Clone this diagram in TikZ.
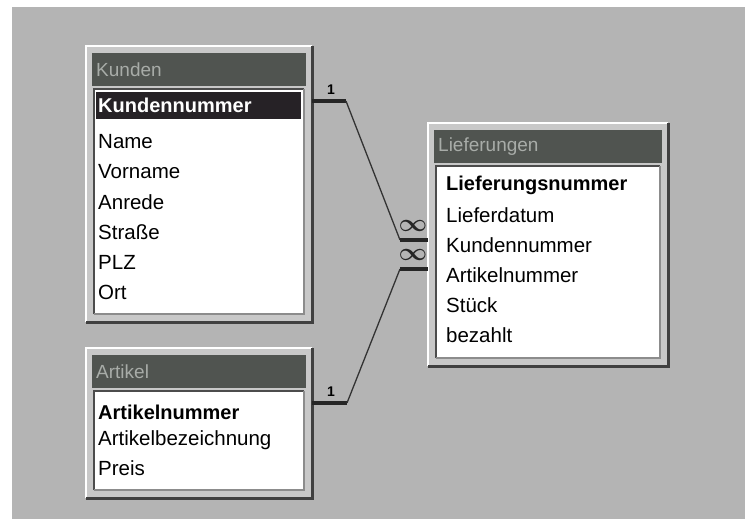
\documentclass[tikz,border=0pt]{standalone}
\usepackage{fontspec}
\setmainfont{Liberation Sans}
\usetikzlibrary{positioning}

\definecolor{hinter}{HTML}{B4B4B4}
\definecolor{rahmen}{HTML}{C8C8C8}
\definecolor{titel}{HTML}{505450}
\definecolor{titeltext}{HTML}{A8ACA8}
\definecolor{markiert}{HTML}{262226}

\tikzset{
  feld/.style={anchor=west, inner sep=0pt, font=\fontsize{20.5}{24}\selectfont},
  schluessel/.style={feld, font=\fontsize{20}{24}\selectfont\bfseries},
  titelzeile/.style={anchor=west, inner sep=0pt, text=titeltext, font=\fontsize{19}{22}\selectfont},
  balken/.style={line width=3.5pt, black!85},
  linie/.style={line width=1.3pt, black!80},
  kard/.style={inner sep=0pt, font=\fontsize{14}{14}\selectfont\bfseries},
  unendlich/.style={inner sep=0pt, text=black!85, font=\fontsize{24}{24}\selectfont\boldmath}
}

% Fenster: Name, x1, y1, x2, y2, Titel
\newcommand{\fenster}[6]{%
  \fill[rahmen] (#2,#3) rectangle (#4,#5);
  \draw[white, line width=2pt] (#2,#5) -- (#2,#3) -- (#4,#3);
  \draw[black!75, line width=3pt] (#4,#3) -- (#4,#5) -- (#2,#5);
  \fill[titel] (#2+6,#3+7) rectangle (#4-6,#3+40);
  \node[titelzeile] (#1-titel) at (#2+10,#3+24) {#6};
  \fill[white] (#2+8,#3+43) rectangle (#4-8,#5-8);
  \draw[black!70, line width=2pt] (#2+8,#5-8) -- (#2+8,#3+43) -- (#4-8,#3+43);
  \draw[black!45, line width=2pt] (#4-8,#3+43) -- (#4-8,#5-8) -- (#2+8,#5-8);
}

\begin{document}
\begin{tikzpicture}[x=1pt, y=-1pt]

\useasboundingbox (0,0) rectangle (745,519);
\fill[hinter] (12,7) rectangle (745,519);

% ---------- Kunden ----------
\fenster{kunden}{86}{46}{312}{322}{Kunden}
\fill[markiert] (96,92) rectangle (301,119);
\node[schluessel, text=white] (kunden-0) at (98,105) {Kundennummer};
\foreach \t [count=\i] in {Name,Vorname,Anrede,Straße,PLZ,Ort} {
  \node[feld] (kunden-\i) at (98,{112+\i*30}) {\t};
}

% ---------- Artikel ----------
\fenster{artikel}{86}{348}{312}{498}{Artikel}
\node[schluessel] (artikel-0) at (98,412) {Artikelnummer};
\foreach \t [count=\i] in {Artikelbezeichnung,Preis} {
  \node[feld] (artikel-\i) at (98,{412+\i*28}) {\t};
}

% ---------- Lieferungen ----------
\fenster{lief}{428}{123}{668}{366}{Lieferungen}
\node[schluessel] (lief-0) at (446,185) {Lieferungsnummer};
\foreach \t [count=\i] in {Lieferdatum,Kundennummer,Artikelnummer,Stück,bezahlt} {
  \node[feld] (lief-\i) at (446,{185+\i*30}) {\t};
}

% ---------- Beziehungen ----------
\coordinate (k-ab) at (312,101);
\coordinate (k-knick) at (346,101);
\coordinate (l-knick1) at (400,240);
\coordinate (l-an1) at (428,240);
\draw[balken] (k-ab) -- (k-knick);
\draw[linie] (k-knick) -- (l-knick1);
\draw[balken] (l-knick1) -- (l-an1);
\node[kard] (eins-k) at (331,90) {1};
\node[unendlich] (n-k) at (413,226) {$\infty$};

\coordinate (a-ab) at (312,403);
\coordinate (a-knick) at (347,403);
\coordinate (l-knick2) at (400,269);
\coordinate (l-an2) at (428,269);
\draw[balken] (a-ab) -- (a-knick);
\draw[linie] (a-knick) -- (l-knick2);
\draw[balken] (l-knick2) -- (l-an2);
\node[kard] (eins-a) at (331,392) {1};
\node[unendlich] (n-a) at (413,255) {$\infty$};

\end{tikzpicture}
\end{document}
